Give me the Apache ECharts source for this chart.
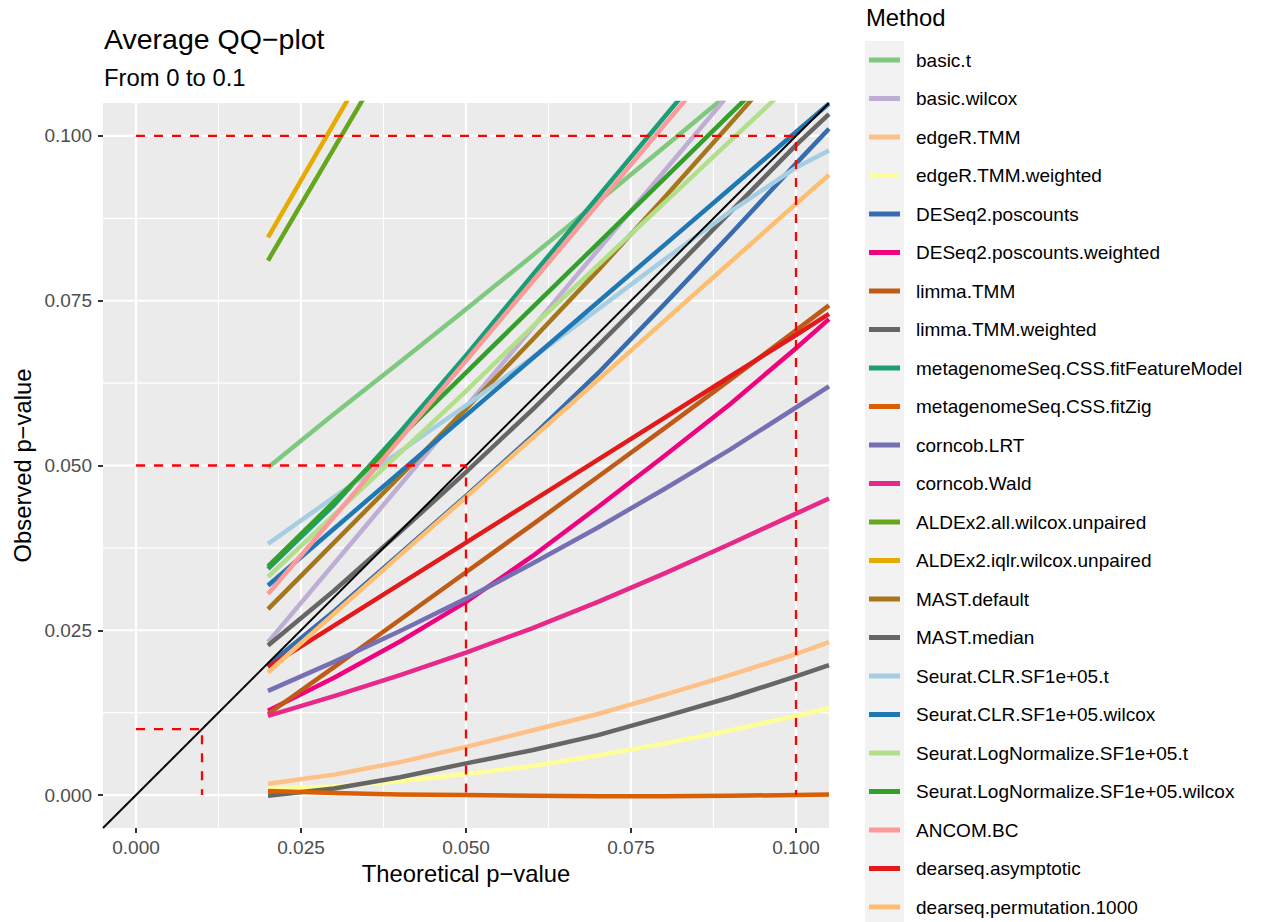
<!DOCTYPE html>
<html>
<head>
<meta charset="utf-8">
<title>Average QQ-plot</title>
<script src="https://cdn.jsdelivr.net/npm/echarts@6/dist/echarts.min.js"></script>
<style>
  html, body { margin: 0; padding: 0; background: #ffffff; }
  #chart { width: 1271px; height: 922px; }
</style>
</head>
<body>
<div id="chart"></div>
<script>
// Theoretical p-values at which each method's average observed p-value is given
const theoretical = [0.02, 0.03, 0.04, 0.05, 0.06, 0.07, 0.08, 0.09, 0.10, 0.105];

// Axis ticks
const majorTicks = [0, 0.025, 0.05, 0.075, 0.1];
const minorTicks = [0.0125, 0.0375, 0.0625, 0.0875];

// Reference thresholds (dashed guides)
const thresholds = [0.01, 0.05, 0.1];

// Method names (legend order) and colours
const methods = [
  'basic.t', 'basic.wilcox', 'edgeR.TMM', 'edgeR.TMM.weighted',
  'DESeq2.poscounts', 'DESeq2.poscounts.weighted', 'limma.TMM', 'limma.TMM.weighted',
  'metagenomeSeq.CSS.fitFeatureModel', 'metagenomeSeq.CSS.fitZig', 'corncob.LRT', 'corncob.Wald',
  'ALDEx2.all.wilcox.unpaired', 'ALDEx2.iqlr.wilcox.unpaired', 'MAST.default', 'MAST.median',
  'Seurat.CLR.SF1e+05.t', 'Seurat.CLR.SF1e+05.wilcox', 'Seurat.LogNormalize.SF1e+05.t',
  'Seurat.LogNormalize.SF1e+05.wilcox', 'ANCOM.BC', 'dearseq.asymptotic', 'dearseq.permutation.1000'
];
const methodColors = [
  '#7FC97F', '#BEAED4', '#FDC086', '#FFFF99',
  '#386CB0', '#F0027F', '#BF5B17', '#666666',
  '#1B9E77', '#D95F02', '#7570B3', '#E7298A',
  '#66A61E', '#E6AB02', '#A6761D', '#666666',
  '#A6CEE3', '#1F78B4', '#B2DF8A',
  '#33A02C', '#FB9A99', '#E31A1C', '#FDBF6F'
];

// Observed p-values per method (aligned with `theoretical`)
const basicT            = [0.0497, 0.0578, 0.0657, 0.0737, 0.0818, 0.0900, 0.0983, 0.1066];
const basicWilcox       = [0.0232, 0.0351, 0.0470, 0.0589, 0.0708, 0.0827, 0.0946, 0.1065];
const edgeRTMM          = [0.0017, 0.0031, 0.0050, 0.0073, 0.0098, 0.0123, 0.0152, 0.0182, 0.0214, 0.0232];
const edgeRTMMWeighted  = [0.0009, 0.0013, 0.0021, 0.0032, 0.0044, 0.0060, 0.0078, 0.0098, 0.0120, 0.0132];
const deseq2Poscounts   = [0.0197, 0.0279, 0.0366, 0.0454, 0.0544, 0.0640, 0.0744, 0.0850, 0.0958, 0.1011];
const deseq2Weighted    = [0.0128, 0.0178, 0.0233, 0.0293, 0.0362, 0.0437, 0.0514, 0.0593, 0.0678, 0.0722];
const limmaTMM          = [0.0123, 0.0194, 0.0266, 0.0338, 0.0410, 0.0483, 0.0556, 0.0630, 0.0705, 0.0743];
const limmaTMMWeighted  = [-0.0001, 0.0010, 0.0027, 0.0048, 0.0068, 0.0091, 0.0119, 0.0148, 0.0180, 0.0197];
const mgsFitFeature     = [0.0343, 0.0440, 0.0551, 0.0667, 0.0788, 0.0908, 0.1028, 0.1148];
const mgsFitZig         = [0.0006, 0.0003, 0.0001, 0.0000, -0.0001, -0.0002, -0.0002, -0.0001, 0.0000, 0.0001];
const corncobLRT        = [0.0158, 0.0202, 0.0249, 0.0298, 0.0351, 0.0406, 0.0464, 0.0524, 0.0588, 0.0620];
const corncobWald       = [0.0120, 0.0150, 0.0182, 0.0216, 0.0253, 0.0293, 0.0336, 0.0381, 0.0427, 0.0450];
const aldexAll          = [0.0811, 0.0981, 0.1151];
const aldexIqlr         = [0.0846, 0.1019, 0.1192];
const mastDefault       = [0.0282, 0.0383, 0.0484, 0.0586, 0.0690, 0.0796, 0.0906, 0.1018, 0.1131];
const mastMedian        = [0.0227, 0.0310, 0.0399, 0.0490, 0.0584, 0.0682, 0.0782, 0.0884, 0.0986, 0.1033];
const seuratClrT        = [0.0381, 0.0452, 0.0521, 0.0591, 0.0663, 0.0737, 0.0812, 0.0885, 0.0952, 0.0978];
const seuratClrWilcox   = [0.0318, 0.0404, 0.0490, 0.0576, 0.0662, 0.0748, 0.0834, 0.0920, 0.1006, 0.1049];
const seuratLogT        = [0.0331, 0.0425, 0.0519, 0.0613, 0.0710, 0.0804, 0.0898, 0.0992, 0.1086];
const seuratLogWilcox   = [0.0347, 0.0445, 0.0543, 0.0641, 0.0739, 0.0837, 0.0935, 0.1033, 0.1131];
const ancomBC           = [0.0305, 0.0422, 0.0540, 0.0659, 0.0778, 0.0897, 0.1016, 0.1135];
const dearseqAsym       = [0.0194, 0.0257, 0.0320, 0.0383, 0.0446, 0.0509, 0.0572, 0.0635, 0.0698, 0.0730];
const dearseqPerm       = [0.0186, 0.0275, 0.0364, 0.0452, 0.0541, 0.0630, 0.0719, 0.0808, 0.0897, 0.0941];

const observed = [
  basicT, basicWilcox, edgeRTMM, edgeRTMMWeighted,
  deseq2Poscounts, deseq2Weighted, limmaTMM, limmaTMMWeighted,
  mgsFitFeature, mgsFitZig, corncobLRT, corncobWald,
  aldexAll, aldexIqlr, mastDefault, mastMedian,
  seuratClrT, seuratClrWilcox, seuratLogT,
  seuratLogWilcox, ancomBC, dearseqAsym, dearseqPerm
];

const FONT = '"Liberation Sans", Arial, Helvetica, sans-serif';
const AXIS_MIN = -0.005, AXIS_MAX = 0.105;

const chart = echarts.init(document.getElementById('chart'), null, { renderer: 'svg' });

const series = [];

// White panel grid lines (major thicker than minor), one helper series per line
function gridLine(id, points, width) {
  series.push({
    name: id,
    type: 'line',
    data: points,
    showSymbol: false,
    clip: true,
    z: 1,
    silent: true,
    emphasis: { disabled: true },
    lineStyle: { color: '#FFFFFF', width: width }
  });
}
majorTicks.forEach(v => {
  gridLine('__gx' + v, [[v, AXIS_MIN], [v, AXIS_MAX]], 2.2);
  gridLine('__gy' + v, [[AXIS_MIN, v], [AXIS_MAX, v]], 2.2);
});
minorTicks.forEach(v => {
  gridLine('__mx' + v, [[v, AXIS_MIN], [v, AXIS_MAX]], 1.1);
  gridLine('__my' + v, [[AXIS_MIN, v], [AXIS_MAX, v]], 1.1);
});

// One line per method
methods.forEach((name, i) => {
  series.push({
    name: name,
    type: 'line',
    data: observed[i].map((y, k) => [theoretical[k], y]),
    color: methodColors[i],
    showSymbol: false,
    smooth: false,
    clip: true,
    z: 2,
    lineStyle: { width: 4.5, color: methodColors[i], join: 'round' },
    emphasis: { disabled: true },
    silent: true
  });
});

// Identity line y = x
series.push({
  name: '__identity',
  type: 'line',
  data: [[AXIS_MIN, AXIS_MIN], [AXIS_MAX, AXIS_MAX]],
  showSymbol: false,
  clip: true,
  z: 3,
  lineStyle: { width: 2, color: '#000000' },
  emphasis: { disabled: true },
  silent: true
});

// Dashed guides at each threshold: horizontal from x = 0, vertical down to y = 0
thresholds.forEach(t => {
  series.push({
    name: '__guide' + t,
    type: 'line',
    data: [[0, t], [t, t], [t, 0]],
    showSymbol: false,
    clip: true,
    z: 4,
    lineStyle: { width: 2.3, color: '#FF0000', type: [9, 9] },
    emphasis: { disabled: true },
    silent: true
  });
});

const axisCommon = {
  type: 'value',
  min: AXIS_MIN,
  max: AXIS_MAX,
  axisLine: { show: false, onZero: false },
  splitLine: { show: false },
  axisTick: {
    show: true,
    length: 5,
    lineStyle: { color: '#333333', width: 2 },
    customValues: majorTicks
  },
  axisLabel: {
    customValues: majorTicks,
    formatter: v => v.toFixed(3),
    color: '#4D4D4D',
    fontSize: 19,
    fontFamily: FONT
  }
};

const option = {
  animation: false,
  backgroundColor: '#FFFFFF',
  grid: { left: 103, top: 103, right: 442, bottom: 94, show: true, backgroundColor: '#EBEBEB', borderWidth: 0 },
  xAxis: Object.assign({}, axisCommon, {
    axisLabel: Object.assign({}, axisCommon.axisLabel, { margin: 10 })
  }),
  yAxis: Object.assign({}, axisCommon, {
    axisLabel: Object.assign({}, axisCommon.axisLabel, { margin: 11 })
  }),
  legend: {
    data: methods,
    orient: 'vertical',
    left: 869,
    top: 50,
    padding: 0,
    itemWidth: 31,
    itemHeight: 5,
    itemGap: 18.5,
    icon: 'rect',
    selectedMode: false,
    textStyle: { fontSize: 19, color: '#000000', fontFamily: FONT, lineHeight: 20, padding: [0, 0, 0, 11] }
  },
  graphic: [
    { type: 'rect', z: -1, shape: { x: 865, y: 41, width: 39, height: 900 }, style: { fill: '#F2F2F2' } },
    { type: 'text', x: 104, y: 39, style: { text: 'Average QQ\u2212plot', font: '28.5px ' + FONT, fill: '#000000', align: 'left', verticalAlign: 'middle', textAlign: 'left', textVerticalAlign: 'middle' } },
    { type: 'text', x: 104, y: 77, style: { text: 'From 0 to 0.1', font: '23.8px ' + FONT, fill: '#000000', align: 'left', verticalAlign: 'middle', textAlign: 'left', textVerticalAlign: 'middle' } },
    { type: 'text', x: 466, y: 873, style: { text: 'Theoretical p\u2212value', font: '23.8px ' + FONT, fill: '#000000', align: 'center', verticalAlign: 'middle', textAlign: 'center', textVerticalAlign: 'middle' } },
    { type: 'text', x: 22, y: 465.5, rotation: Math.PI / 2, style: { text: 'Observed p\u2212value', font: '23.8px ' + FONT, fill: '#000000', align: 'center', verticalAlign: 'middle', textAlign: 'center', textVerticalAlign: 'middle' } },
    { type: 'text', x: 866, y: 17, style: { text: 'Method', font: '23.8px ' + FONT, fill: '#000000', align: 'left', verticalAlign: 'middle', textAlign: 'left', textVerticalAlign: 'middle' } }
  ],
  series: series
};

chart.setOption(option);
</script>
</body>
</html>
